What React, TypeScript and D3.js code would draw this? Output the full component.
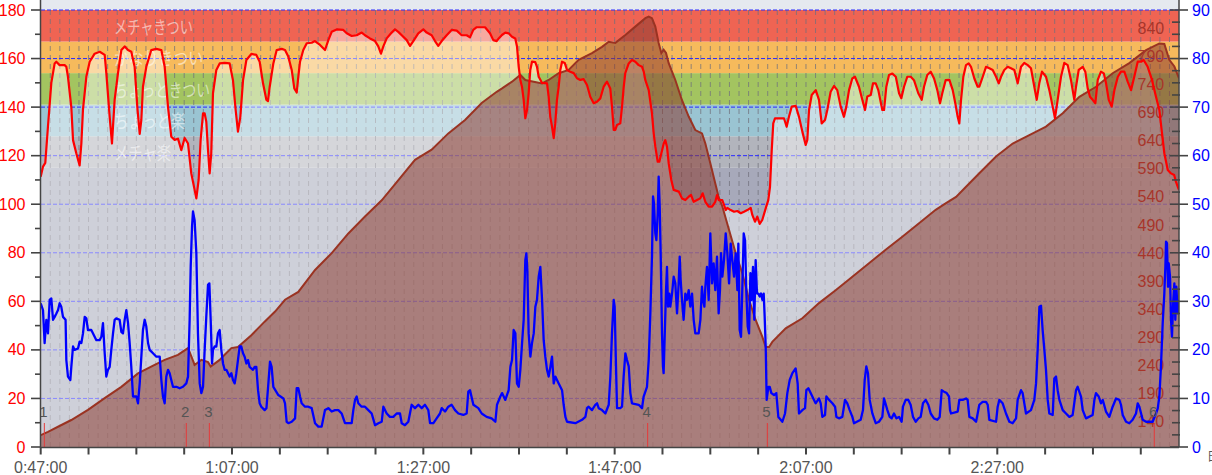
import React from 'react';
import * as d3 from 'd3';

const W = 1212;
const H = 475;

// ---- data (time in minutes since 0:47:00) ----
const heartRate: [number, number][] = [
  [0,111.3],[0.24,115.5],[0.48,117],[0.76,132],[1.11,150],[1.46,158],[1.63,158.7],[1.98,157.3],[2.5,157.3],[2.68,156.6],[2.85,152.5],[3.2,140],[3.38,126.4],[3.72,121],[4.07,116],[4.25,125],[4.42,139],[4.77,152.5],[5.12,158.7],[5.64,162],[6.17,162.8],[6.69,161.5],[6.86,154],[7.21,136],[7.45,125],[7.73,143],[8.08,154],[8.43,163.5],[8.78,165],[9.13,163.5],[9.47,162.8],[9.82,156.6],[10.1,140],[10.35,129],[10.52,134.7],[10.69,148.4],[11.04,156.6],[11.56,163.5],[12.08,164],[12.61,163.5],[12.96,156.6],[13.31,140],[13.65,127.8],[14.0,126.5],[14.35,127],[14.7,122.3],[15.05,127.3],[15.4,125],[15.74,112.7],[16.09,105.9],[16.27,102.4],[16.51,110],[16.72,126.5],[16.97,137.4],[17.14,137.4],[17.31,134],[17.49,122.3],[17.66,112.7],[17.83,121],[18.01,145.7],[18.36,155.3],[18.71,158],[19.23,158.2],[19.75,158],[20.1,151],[20.38,138.8],[20.62,129.9],[20.87,136],[21.15,151],[21.5,159.4],[22.02,161.9],[22.54,161.5],[22.89,158.7],[23.24,149.8],[23.59,143],[23.76,142.5],[23.94,148.4],
  [24.32,158],[24.67,163.5],[25.19,164],[25.54,163.5],[25.88,160.8],[26.24,155.3],[26.51,147.7],[26.76,146],[26.93,152.5],[27.11,158.7],[27.45,163.5],[27.81,166.3],[28.33,166.5],[28.67,167.2],[29.2,165.6],[29.72,163.5],[30.07,167.6],[30.42,171],[30.94,172],[31.63,171.8],[31.99,170.4],[32.51,169.3],[33.03,169.6],[33.56,170.7],[33.9,169.6],[34.42,168.3],[34.95,167.2],[35.29,165],[35.57,162],[35.82,165],[36.17,168.3],[36.69,170.7],[37.04,172],[37.38,171],[37.74,169.6],[38.26,167.6],[38.61,165.2],[38.95,167.2],[39.47,170.4],[40.0,172],[40.35,170.7],[40.87,169.6],[41.22,167.2],[41.56,165.2],[41.92,167.2],[42.44,169.6],[42.96,171.8],[43.49,171.5],[44.01,169.6],[44.53,169.6],[44.88,168.7],[45.22,171.8],[45.58,172.9],[46.45,172.9],[46.97,170.4],[47.31,167.6],[47.67,167.2],
  [47.88,168.3],[48.22,169.7],[48.57,170.7],[48.92,170.4],[49.27,169],[49.61,168.3],[49.79,165],[49.97,156.6],[50.14,151.2],[50.31,148.4],[50.49,143],[50.66,135.4],[50.84,138.8],[51.01,145.7],[51.18,155.3],[51.36,158.7],[51.7,158.5],[51.88,156.6],[52.06,152.5],[52.4,150],[52.93,149.8],[53.1,144.3],[53.27,136],[53.45,132],[53.63,127.2],[53.79,133.3],[53.97,143],[54.15,148.4],[54.32,155.3],[54.5,158.7],[54.78,158.2],[55.02,155.3],[55.36,154.6],[55.72,154],[56.06,151.9],[56.41,151.2],[56.76,151.5],[57.11,149.1],[57.45,144.3],[57.81,141.6],[58.15,142.2],[58.5,143.6],[58.85,148.4],[59.2,150.5],[59.54,147.7],[59.72,140.2],[59.9,130.6],[60.07,130.6],[60.24,132.6],[60.59,133.3],[60.77,140.2],[60.95,148.4],[61.11,154],[61.47,158],[61.81,159.4],[62.16,158.7],[62.51,157.3],[62.86,156.6],[63.04,154.6],[63.2,151.2],[63.56,147],[63.9,137.4],[64.08,129.2],[64.25,123.7],[64.5,117.5],[64.67,117.5],[64.84,120.3],[65.13,125],[65.29,126.4],[65.47,123.7],[65.65,116.8],[65.92,110],[66.17,105.9],[66.7,105.2],[67.04,102.4],[67.39,101.7],[67.74,103.1],[67.98,103.8],[68.26,101],[68.61,101.7],[68.95,102.4],[69.2,104.5],[69.48,101],[69.83,99],[70.18,99],[70.52,101],[70.7,103.8],[70.88,101.7],
  [71.25,101.7],[71.43,99.7],[71.61,97.6],[71.78,98.5],[72.13,97.6],[72.48,96.9],[72.82,97.2],[73.18,96.3],[73.52,96.9],[73.87,97.6],[74.22,98.5],[74.39,95.6],[74.67,92.8],[74.91,94.9],[75.16,91.9],[75.43,93.5],[75.79,98.3],[76.06,101.7],[76.24,107.2],[76.42,122.3],[76.58,133.3],[76.76,135.4],[77.52,135.4],[77.7,135.4],[77.98,131.9],[78.22,136],[78.51,140.2],[78.93,140.5],[79.27,136],[79.62,129.9],[79.97,124.4],[80.14,126.5],[80.32,138.8],[80.6,145],[81.02,147],[81.36,143],[81.64,133.3],[81.99,134.7],[82.23,138.8],[82.58,146.3],[82.93,148.7],[83.27,147],[83.63,140.2],[83.97,136],[84.22,140.2],[84.5,147],[84.84,151.8],[85.12,152.5],[85.54,148.4],[85.89,143],[86.17,138.8],[86.41,144.4],[86.77,145],[87.01,149.8],[87.29,149.8],[87.56,147],[87.98,138.8],[88.16,138.8],[88.4,148.4],[88.68,153.2],[89.03,153.8],[89.39,152.5],[89.73,145.7],[89.97,143.6],[90.25,148.4],[90.59,152.5],[90.95,152.5],[91.29,151.1],[91.74,145.7],[92.1,143],[92.34,148.4],[92.68,153.2],[93.04,154.6],[93.39,151.8],[93.73,147],[94.01,141.6],[94.25,145.7],[94.6,151.1],
  [94.99,151.2],[95.34,147],[95.61,141.6],[95.86,136],[96.03,133.3],[96.21,143],[96.45,152.5],[96.73,157.3],[97.01,158],[97.25,156.6],[97.6,151.8],[97.95,148.4],[98.12,148.4],[98.48,152.5],[98.82,156.6],[99.17,156],[99.52,155.3],[99.87,152.5],[100.15,149.8],[100.39,152.5],[100.73,155.3],[101.09,156.6],[101.43,156],[101.78,155.3],[102.13,149.8],[102.48,156.6],[102.82,158.2],[103.18,157.3],[103.52,156],[103.87,148.4],[104.12,143],[104.39,149.8],[104.67,154.6],[105.09,152.5],[105.44,147],[105.79,140.2],[106.03,135.4],[106.31,143],[106.66,152.5],[107.0,158.2],[107.36,157.3],[107.7,151.2],[108.05,143],[108.23,148.4],[108.51,155.3],[108.93,156.6],[109.2,154.6],[109.45,147.7],[109.69,144.3],[109.97,143],[110.25,141.6],[110.5,151.2],[110.84,154.6],[111.13,153.9],[111.37,149.8],[111.65,143],[111.96,140.2],[112.24,147],[112.6,152.5],[112.93,154.6],[113.28,154.6],[113.63,150.5],[113.98,147],[114.32,152.5],[114.68,158.7],[115.03,158.7],[115.3,159.4],[115.72,156.6],[116.17,151.2],[116.59,144.3],[116.94,138.8],[117.22,129.2],[117.46,121],[117.82,114.1],[118.16,112.7],[118.49,112],[118.67,109.3],[118.92,106.6],[119.0,106]
];

const speed: [number, number][] = [
  [0,29.6],[0.24,28.2],[0.41,21.4],[0.59,26.2],[0.76,23.4],[0.94,30.3],[1.11,30.6],[1.29,26.2],[1.46,26.8],[1.64,27.5],[1.81,28.2],[1.98,29.6],[2.15,28.9],[2.33,26.8],[2.6,26.2],[2.68,17.9],[2.85,14.5],[3.1,13.8],[3.2,16.5],[3.38,20.7],[3.55,20.0],[3.9,20.3],[4.07,21.7],[4.25,21.4],[4.42,23.4],[4.6,26.8],[4.77,26.5],[4.94,24.1],[5.29,24.1],[5.64,22.7],[5.82,22.0],[6.16,22.0],[6.34,22.7],[6.51,25.5],[6.69,19.3],[6.86,14.5],[7.03,15.9],[7.21,16.5],[7.38,20.0],[7.56,23.4],[7.73,26.2],[7.9,26.5],[8.25,26.2],[8.43,23.7],[8.6,23.4],[8.78,26.2],[8.95,28.2],[9.13,25.5],[9.3,21.4],[9.47,16.5],[9.65,10.4],[10.0,10.4],[10.17,9.0],[10.35,13.1],[10.52,18.6],[10.69,24.1],[10.87,26.2],[11.04,24.8],[11.22,21.4],[11.39,20.0],[11.74,19.3],[12.09,18.6],[12.44,18.6],[12.61,13.8],[12.78,10.4],[12.96,9.0],[13.13,14.5],[13.31,15.9],[13.48,15.2],[13.65,13.8],[13.83,12.4],[14.18,12.4],[14.53,12.1],[14.87,12.4],[15.22,13.1],[15.4,14.5],[15.57,26.2],[15.68,37.1],[15.82,45.4],[15.92,48.5],[16.09,46.7],[16.27,39.9],[16.44,23.4],[16.62,13.1],[16.79,11.1],[16.97,12.4],[17.14,20.0],[17.31,26.8],[17.49,33.4],[17.63,33.7],[17.77,26.2],[17.91,17.2],[18.01,20.0],[18.18,20.7],[18.36,20.7],[18.53,23.4],[18.71,24.1],[18.88,20.0],[19.06,17.2],[19.23,15.9],[19.41,15.9],[19.75,14.5],[19.93,15.2],[20.1,13.8],[20.28,13.1],[20.45,15.2],[20.62,17.9],[20.8,20.7],[20.97,20.7],[21.15,19.3],[21.32,18.6],[21.5,17.2],[21.67,17.9],[21.84,16.5],[22.19,15.9],[22.37,16.5],[22.54,16.5],[22.72,11.7],[22.89,9.0],[23.06,8.3],[23.41,7.6],[23.6,8.0],[23.8,13.1],[23.97,17.6],[24.14,16.5],[24.32,12.4],
  [24.84,10.7],[25.37,10.0],[25.54,9.0],[25.71,5.2],[25.89,4.9],[26.24,5.2],[26.59,5.9],[26.76,12.1],[26.93,12.1],[27.11,10.4],[27.28,9.0],[27.63,8.3],[27.98,8.3],[28.33,8.0],[28.68,4.9],[29.02,4.2],[29.37,4.2],[29.72,7.6],[30.07,8.0],[30.42,7.3],[30.77,7.6],[31.12,7.6],[31.46,6.9],[31.81,4.9],[32.16,4.9],[32.51,4.9],[32.68,7.6],[32.86,9.7],[33.03,10.4],[33.2,9.0],[33.55,8.3],[33.9,8.3],[34.25,7.6],[34.6,6.9],[34.95,4.5],[35.3,4.9],[35.65,5.2],[35.82,8.3],[36.17,6.9],[36.51,6.2],[36.86,6.2],[37.21,6.9],[37.56,6.9],[37.74,4.9],[38.08,4.5],[38.43,5.2],[38.78,8.7],[39.13,8.0],[39.48,8.7],[39.83,8.0],[40.17,8.7],[40.52,7.6],[40.7,4.9],[41.05,4.9],[41.39,5.9],[41.74,6.9],[41.92,8.0],[42.27,7.3],[42.61,8.3],[42.96,8.7],[43.31,7.6],[43.66,6.9],[44.18,6.6],[44.53,6.9],[44.7,11.4],[44.88,11.7],[45.23,8.7],[45.75,8.0],[46.1,6.9],[46.62,6.2],[47.14,5.9],
  [47.53,5.2],[47.7,8.7],[48.05,10.4],[48.23,11.1],[48.57,9.7],[48.92,11.7],[49.1,16.5],[49.27,17.9],[49.44,24.1],[49.62,23.4],[49.79,13.1],[49.97,12.4],[50.14,15.9],[50.32,21.4],[50.49,26.2],[50.66,38.5],[50.77,39.9],[50.87,36.5],[51.01,23.4],[51.19,18.6],[51.36,21.4],[51.54,23.4],[51.71,28.9],[51.88,30.3],[52.06,35.1],[52.23,37.1],[52.41,30.3],[52.58,22.0],[52.75,18.6],[52.93,15.9],[53.1,14.5],[53.28,16.5],[53.45,18.6],[53.63,13.1],[53.8,14.5],[54.15,13.1],[54.5,11.7],[54.67,8.7],[54.85,6.2],[55.02,5.2],[55.89,4.9],[56.59,5.6],[56.94,6.2],[57.11,8.0],[57.28,8.3],[57.63,7.6],[57.98,8.7],[58.16,9.0],[58.33,8.0],[58.68,7.6],[59.03,6.9],[59.38,8.7],[59.55,14.5],[59.72,23.4],[59.9,30.3],[60.0,28.9],[60.14,16.6],[60.25,8.0],[60.59,8.0],[60.77,8.3],[60.94,14.5],[61.12,19.3],[61.29,17.9],[61.47,16.6],[61.64,11.1],[61.81,9.0],[62.51,8.7],[62.86,8.0],[63.03,10.4],[63.38,12.4],[63.56,17.9],[63.73,27.5],[63.9,39.2],[64.01,51.6],[64.11,50.2],[64.25,44.0],[64.36,42.6],[64.5,48.1],[64.6,55.7],[64.71,49.5],[64.81,39.9],[64.95,23.4],[65.05,16.6],[65.12,15.2],[65.23,22.7],[65.37,32.3],[65.47,37.1],[65.58,28.9],[65.72,31.6],[65.82,28.9],[66.0,31.6],[66.17,35.1],[66.34,33.7],[66.52,27.5],[66.69,33.7],[66.8,39.2],[66.9,34.4],[67.04,30.3],[67.21,26.2],[67.39,31.6],[67.56,30.3],[67.74,32.3],[67.91,28.9],[68.09,31.6],[68.26,26.2],[68.43,23.4],[68.78,23.4],[68.96,26.2],[69.13,33.0],[69.24,30.3],[69.38,28.9],[69.48,33.0],[69.65,37.1],[69.83,30.3],[70.0,44.0],[70.18,33.7],[70.35,37.8],[70.52,32.3],[70.7,39.2],[70.87,27.5],
  [71.01,32.3],[71.12,39.9],[71.26,35.1],[71.43,38.5],[71.61,44.0],[71.78,39.9],[71.96,33.7],[72.13,41.9],[72.3,38.5],[72.48,35.1],[72.65,39.9],[72.83,32.3],[72.93,41.9],[73.07,24.1],[73.21,22.7],[73.35,33.0],[73.49,44.0],[73.63,42.6],[73.77,31.6],[73.91,24.8],[74.05,23.4],[74.19,35.8],[74.32,30.3],[74.46,37.1],[74.6,26.2],[74.74,38.5],[74.88,31.6],[75.02,31.6],[75.16,31.0],[75.3,31.6],[75.44,30.3],[75.58,31.6],[75.68,26.9],[75.79,20.7],[75.89,9.7],[76.07,12.4],[76.21,12.4],[76.38,11.1],[76.66,10.7],[76.9,11.1],[77.11,6.2],[77.36,5.6],[77.53,5.2],[77.81,6.9],[78.05,11.1],[78.3,13.8],[78.58,15.2],[78.92,16.2],[79.13,13.1],[79.27,6.9],[79.62,7.6],[79.9,8.0],[80.04,11.7],[80.25,12.1],[80.49,11.1],[80.84,9.7],[81.01,9.0],[81.36,10.0],[81.54,9.0],[81.71,6.2],[81.99,6.6],[82.13,10.4],[82.41,9.7],[82.76,9.0],[83.04,8.3],[83.18,6.2],[83.45,5.9],[83.8,6.2],[84.08,9.7],[84.32,9.0],[84.57,7.6],[84.85,6.2],[85.02,4.9],[85.72,5.6],[85.96,7.6],[86.14,13.8],[86.31,16.6],[86.48,15.2],[86.66,9.7],[86.94,6.9],[87.29,4.9],[87.63,5.2],[87.98,6.2],[88.16,10.0],[88.51,7.6],[88.75,6.2],[88.96,5.9],[89.2,6.9],[89.45,5.9],[89.73,6.2],[90.0,5.2],[90.14,8.3],[90.42,9.7],[90.7,9.7],[90.94,8.7],[91.19,6.2],[91.47,5.2],[91.75,5.9],[91.99,6.2],[92.23,9.0],[92.51,9.7],[92.79,8.7],[93.04,6.9],[93.38,5.9],[93.73,5.6],[93.98,6.2],[94.19,11.7],[94.43,11.4],[94.71,11.1],[94.95,10.4],
  [95.06,7.6],[95.16,6.9],[95.86,7.3],[96.03,9.7],[96.38,9.7],[96.73,10.0],[96.9,9.7],[97.08,6.2],[97.43,5.9],[97.78,5.2],[97.95,6.9],[98.12,8.7],[98.47,9.3],[98.82,9.3],[99.0,8.7],[99.17,5.6],[99.87,5.2],[100.04,8.3],[100.21,9.7],[100.56,9.0],[100.91,6.9],[101.26,5.2],[101.61,4.9],[101.96,5.9],[102.13,9.7],[102.48,11.7],[102.65,11.1],[103.0,6.9],[103.52,7.6],[103.87,9.7],[104.05,13.1],[104.22,20.0],[104.4,28.9],[104.57,29.1],[104.74,24.1],[104.92,20.0],[105.09,15.9],[105.27,9.7],[105.44,6.9],[105.79,6.6],[105.96,14.1],[106.14,14.5],[106.31,11.7],[106.49,9.7],[106.84,7.6],[107.18,6.9],[107.53,6.2],[107.88,6.6],[108.23,11.7],[108.4,12.4],[108.75,10.4],[108.93,7.6],[109.27,5.9],[109.97,6.6],[110.15,9.7],[110.32,11.1],[110.6,10.4],[110.84,9.0],[111.02,9.7],[111.36,7.3],[111.71,6.2],[112.06,8.3],[112.41,10.0],[112.76,9.7],[112.93,8.7],[113.11,6.6],[113.46,5.2],[113.8,4.9],[114.15,5.6],[114.5,6.9],[114.68,9.0],[114.85,8.3],[115.2,5.6],[115.55,5.2],[116.24,5.2],[116.59,6.9],[116.77,7.9],[116.94,10.4],[117.11,16.6],[117.29,25.5],[117.46,31.6],[117.57,37.1],[117.64,42.3],[117.74,42.0],[117.85,33.0],[117.92,37.8],[118.06,35.1],[118.16,26.2],[118.26,22.7],[118.4,30.3],[118.51,33.7],[118.61,26.2],[118.72,33.0],[118.86,27.5],[119.0,30.3]
];

const elevation: [number, number][] = [
  [0,116],[0.76,122],[1.81,131],[3.2,143],[4.94,161],[6.69,182],[8.43,202],[10.17,226],[11.91,241],[12.96,250],[14.35,259],[15.4,271],[15.82,253],[16.09,241],[16.79,250],[17.49,246],[17.77,238],[18.71,250],[19.23,259],[19.93,271],[20.62,273],[22.02,294],[22.72,306],[23.41,318],[24.5,336],[25.54,357],[26.93,371],[28.68,410],[30.42,440],[32.16,475],[33.9,505],[35.65,534],[37.39,570],[39.13,606],[40.87,624],[42.61,653],[44.36,677],[46.1,707],[47.67,727],[48.23,733],[49.27,745],[50.14,757],[50.66,748],[52.41,742],[53.1,748],[54.15,760],[55.19,766],[56.24,784],[57.63,796],[58.68,807],[59.38,816],[60.07,814],[61.12,828],[62.16,843],[63.21,858],[63.56,861],[63.9,858],[64.25,843],[64.6,814],[64.88,796],[65.12,802],[65.37,796],[65.65,778],[66.34,748],[67.04,712],[67.74,683],[68.43,659],[69.13,653],[69.48,635],[70.0,600],[70.52,564],[70.87,540],[71.26,523],[71.96,481],[72.65,440],[73.35,404],[74.05,357],[74.74,321],[75.44,291],[75.79,273],[76.14,273],[76.48,282],[77.88,306],[79.62,324],[81.36,351],[83.1,374],[84.85,398],[86.59,422],[88.33,446],[90.07,469],[91.82,493],[93.56,517],[94.64,529],[95.69,540],[96.73,558],[98.12,582],[99.87,612],[101.61,635],[103.35,650],[105.09,665],[106.84,689],[108.58,718],[110.32,736],[112.06,760],[113.8,778],[115.55,801],[116.94,813],[117.46,812],[117.98,784],[118.51,772],[119.0,751]
];

const lapTimes = [0.38, 15.22, 17.63, 63.45, 75.96, 116.41];
const lapLabels = ['1', '2', '3', '4', '5', '6'];

const xTickMinutes = [0, 20, 40, 60, 80, 100];
const xTickLabels = ['0:47:00', '1:07:00', '1:27:00', '1:47:00', '2:07:00', '2:27:00'];
const hrTicks = [0, 20, 40, 60, 80, 100, 120, 140, 160, 180];
const speedTicks = [0, 10, 20, 30, 40, 50, 60, 70, 80, 90];
const elevTicks = [140, 190, 240, 290, 340, 390, 440, 490, 540, 590, 640, 690, 740, 790, 840];

const zoneLower = [115, 128, 141, 154, 167];
const zoneUpper = [128, 141, 154, 167, 180];
const zoneNames = ['メチャ楽', 'ちょっと楽', 'ちょっときつい', 'かなりきつい', 'メチャきつい'];
const zoneTextWidth = [57, 71, 96, 89, 79];
const zoneColors = ['#b2b4bc', '#9ac4d2', '#a3c460', '#f6ba5c', '#ef6453'];
const belowZoneColor = '#a7a9ba';

export default function App() {
  const L = 41, R = 1179, B = 447;
  const x = d3.scaleLinear().domain([0, 119]).range([40.7, 1179.05]);
  const yHR = d3.scaleLinear().domain([0, 180]).range([447, 10]);
  const ySp = d3.scaleLinear().domain([0, 90]).range([447, 10]);
  const yEl = d3.scaleLinear().domain([140, 840]).range([421.7, 28.3]);

  const hrLine = d3.line<[number, number]>().x(d => x(d[0])).y(d => yHR(d[1]));
  const hrArea = d3.area<[number, number]>().x(d => x(d[0])).y0(B).y1(d => yHR(d[1]));
  const spLine = d3.line<[number, number]>().x(d => x(d[0])).y(d => ySp(d[1]));
  const elLine = d3.line<[number, number]>().x(d => x(d[0])).y(d => yEl(d[1]));
  const elArea = d3.area<[number, number]>().x(d => x(d[0])).y0(B).y1(d => yEl(d[1]));

  const minutes = d3.range(1, 119);
  const fiveMin = d3.range(0, 119, 5);
  const spMinor = d3.range(0, 90.1, 2.5);
  const hrMinor = d3.range(0, 181, 10);

  const numFont = '"Liberation Sans", Arial, sans-serif';
  const jpFont = '"Noto Sans CJK JP", sans-serif';

  return (
    <svg width={W} height={H} style={{ position: 'absolute', left: 0, top: 0, background: '#fff' }}>
      <defs>
        <clipPath id="plot">
          <rect x={L} y={0} width={R - L} height={B} />
        </clipPath>
      </defs>
      <g clipPath="url(#plot)">
        <rect x={L} y={0} width={R - L} height={yHR(180)} fill="#e5e9ef" />
        <rect x={L} y={yHR(zoneLower[0])} width={R - L} height={B - yHR(zoneLower[0])} fill={belowZoneColor} />
        {zoneLower.map((lo, i) => (
          <rect key={'z' + i} x={L} y={yHR(zoneUpper[i])} width={R - L}
            height={yHR(lo) - yHR(zoneUpper[i])} fill={zoneColors[i]} />
        ))}
        {minutes.map(m => (
          <line key={'vg' + m} x1={x(m)} x2={x(m)} y1={yHR(180)} y2={B}
            stroke="#70707c" strokeOpacity={0.75} strokeWidth={1} strokeDasharray="5,4" />
        ))}
        {hrTicks.filter(v => v > 0).map(v => (
          <line key={'hg' + v} x1={L} x2={R} y1={yHR(v)} y2={yHR(v)}
            stroke="#2a2aff" strokeWidth={1} strokeDasharray="4,2" />
        ))}
        <path d={hrArea(heartRate) || ''} fill="#ffffff" fillOpacity={0.45} />
        {zoneNames.map((n, i) => (
          <text key={'zn' + i} x={114} y={(yHR(zoneUpper[i]) + yHR(zoneLower[i])) / 2}
            dominantBaseline="central" fontFamily={jpFont} fontSize={18}
            textLength={zoneTextWidth[i]} lengthAdjust="spacingAndGlyphs"
            fill="#ffffff" fillOpacity={0.55}>{n}</text>
        ))}
        <path d={elArea(elevation) || ''} fill="#8b3a30" fillOpacity={0.55} />
        <path d={elLine(elevation) || ''} fill="none" stroke="#9a3322" strokeWidth={2} />
        {elevTicks.map(v => (
          <text key={'et' + v} x={1137.5} y={yEl(v)} dominantBaseline="central"
            fontFamily={numFont} fontSize={16} fill="#a8352a">{v}</text>
        ))}
        <path d={hrLine(heartRate) || ''} fill="none" stroke="#ff0000" strokeWidth={2.2} strokeLinejoin="round" />
        <path d={spLine(speed) || ''} fill="none" stroke="#0000ff" strokeWidth={2.3} strokeLinejoin="round" />
        {lapTimes.map((t, i) => (
          <g key={'lap' + i}>
            <line x1={x(t)} x2={x(t)} y1={423} y2={B} stroke="#e53a3a" strokeWidth={1} />
            <text x={x(t) - 1} y={411} textAnchor="middle" dominantBaseline="central"
              fontFamily={numFont} fontSize={15} fill="#555">{lapLabels[i]}</text>
          </g>
        ))}
      </g>

      {/* left axis */}
      <line x1={40.5} x2={40.5} y1={0} y2={B} stroke="#444" strokeWidth={1.5} />
      {hrMinor.map(v => (
        <line key={'lt' + v} x1={v % 20 === 0 ? 31 : 35} x2={41} y1={yHR(v)} y2={yHR(v)} stroke="#444" strokeWidth={1.6} />
      ))}
      {hrTicks.map(v => (
        <text key={'ll' + v} x={25.5} y={yHR(v)} textAnchor="end" dominantBaseline="central"
          fontFamily={numFont} fontSize={16} fill="#ff0000">{v}</text>
      ))}

      {/* bottom axis */}
      <line x1={L} x2={R} y1={447.5} y2={447.5} stroke="#444" strokeWidth={1.5} />
      {fiveMin.map(m => (
        <line key={'bt' + m} x1={x(m)} x2={x(m)} y1={447} y2={454.5} stroke="#444" strokeWidth={2} />
      ))}
      {xTickMinutes.map((m, i) => (
        <text key={'bl' + m} x={x(m)} y={467} textAnchor="middle" dominantBaseline="central"
          fontFamily={numFont} fontSize={16} fill="#555">{xTickLabels[i]}</text>
      ))}

      {/* right axis */}
      <line x1={1179} x2={1179} y1={0} y2={B} stroke="#444" strokeWidth={1.5} />
      {spMinor.map(v => (
        <line key={'rt' + v} x1={v % 10 === 0 ? 1170 : 1172} x2={v % 10 === 0 ? 1188 : 1180}
          y1={ySp(v)} y2={ySp(v)} stroke="#444" strokeWidth={1.6} />
      ))}
      {speedTicks.map(v => (
        <text key={'rl' + v} x={1192} y={ySp(v)} dominantBaseline="central"
          fontFamily={numFont} fontSize={16} fill="#0000ff">{v}</text>
      ))}
      <text x={1207} y={455} dominantBaseline="central" fontFamily={jpFont} fontSize={12} fill="#555">日</text>
    </svg>
  );
}
